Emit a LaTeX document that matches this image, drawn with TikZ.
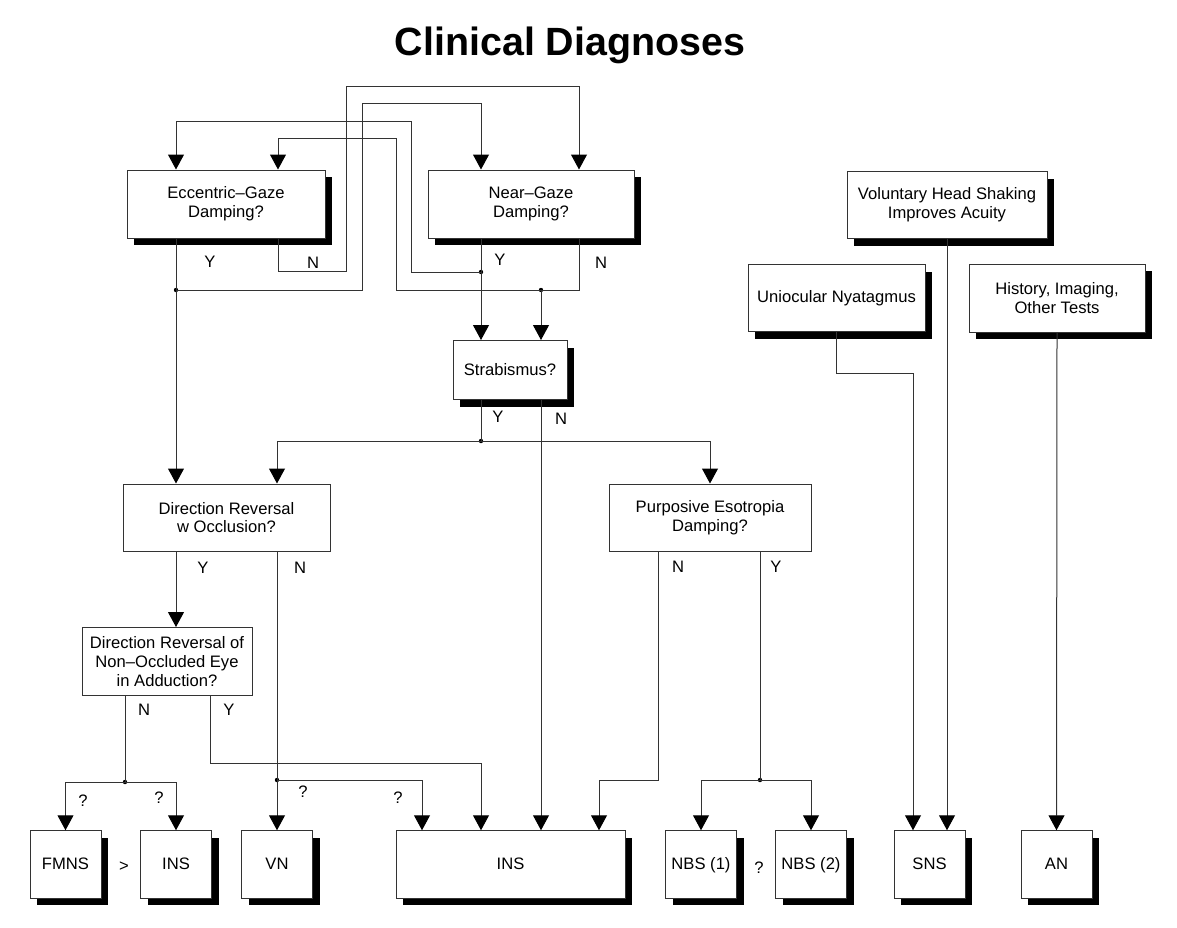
\documentclass[tikz,border=0pt]{standalone}
\usepackage{fontspec}
\setmainfont{Liberation Sans}
\usetikzlibrary{arrows.meta,shadows,positioning,calc}
\tikzset{
	box/.style={rectangle,draw=black!80,line width=.5pt,fill=white,align=center,inner sep=0pt,font=\fontsize{8.3}{9.4}\selectfont},
	shbox/.style={box,drop shadow={shadow xshift=3.5pt,shadow yshift=-3.5pt,fill=black,opacity=1}},
	dxbox/.style={shbox,minimum width=35.5pt,minimum height=33.75pt,text height=.72em,text depth=.22em},
	edge/.style={draw=black!80,line width=.5pt},
	diredge/.style={-{Triangle[width=8pt,length=7.5pt,color=black]},draw=black!80,line width=.5pt},
	lbl/.style={font=\fontsize{8.3}{9.4}\selectfont,inner sep=0pt},
	jdot/.style={fill=black}
}
\begin{document}
\begin{tikzpicture}[x=.5pt,y=-.5pt]
				\useasboundingbox (0,0) rectangle (1177,927);
				\node[anchor=base,font=\fontsize{19.7}{24}\selectfont\bfseries] (title) at (570,55) {Clinical Diagnoses};
				
				%%%% top row
				\node[shbox,minimum width=99pt,minimum height=34pt] (eg) at (226,204) {Eccentric--Gaze\\Damping?};
				\node[shbox,minimum width=103pt,minimum height=34pt] (ng) at (531,204) {Near--Gaze\\Damping?};
				\node[shbox,minimum width=100pt,minimum height=33.5pt] (vhs) at (947,205) {Voluntary Head Shaking\\Improves Acuity};
				\node[shbox,minimum width=88.5pt,minimum height=33.5pt] (uni) at (836.5,298) {Uniocular Nyatagmus};
				\node[shbox,minimum width=88pt,minimum height=34pt] (hist) at (1057,298) {History, Imaging,\\Other Tests};
				
				%%%% middle
				\node[shbox,minimum width=57pt,minimum height=29.5pt] (strab) at (510,370) {Strabismus?};
				\node[box,minimum width=103.5pt,minimum height=33.5pt] (dr) at (226.5,517.5) {Direction Reversal\\w Occlusion?};
				\node[box,minimum width=101pt,minimum height=33.5pt] (pe) at (710,517.5) {Purposive Esotropia\\Damping?};
				\node[box,minimum width=85pt,minimum height=34pt] (drn) at (167,661.5) {Direction Reversal of\\Non--Occluded Eye\\in Adduction?};
				
				%%%% diagnoses
				\node[dxbox] (fmns) at (65.5,864.5) {FMNS};
				\node[dxbox] (insa) at (176,864.5) {INS};
				\node[dxbox] (vn) at (277,864.5) {VN};
				\node[dxbox,minimum width=114.5pt] (insb) at (510.5,864.5) {INS};
				\node[dxbox] (nbsa) at (701,864.5) {NBS (1)};
				\node[dxbox] (nbsb) at (811,864.5) {NBS (2)};
				\node[dxbox] (sns) at (929.5,864.5) {SNS};
				\node[dxbox] (an) at (1056.5,864.5) {AN};
				
				%%%% junctions
				\coordinate (jegy) at (176,290);
				\coordinate (jngy) at (481,272);
				\coordinate (jngn) at (541,290);
				\coordinate (jst) at (481,441);
				\coordinate (jdrn) at (125,782);
				\coordinate (jdr) at (277,780);
				\coordinate (jpe) at (760,780);
				\foreach \j in {jegy,jngy,jngn,jst,jdrn,jdr,jpe}
					\fill[jdot] (\j) circle (1.1pt);
				
				%%%% gaze damping loops
				\draw[diredge] (eg.south -| jegy) -- (dr.north -| jegy);
				\draw[diredge] (jegy) -| (362,103) -| (ng.north -| jngy);
				\draw[diredge] (eg.south -| 278,0) |- (346,271) |- (579,86) -- (ng.north -| 579,0);
				\draw[diredge] (ng.south -| jngy) -- (strab.north -| jngy);
				\draw[diredge] (jngy) -| (411,121) -| (eg.north -| jegy);
				\draw[diredge] (ng.south -| 579,0) |- (396,290) |- (278,138) -- (eg.north -| 278,0);
				\draw[diredge] (jngn) -- (strab.north -| jngn);
				
				%%%% strabismus
				\draw[edge] (strab.south -| jst) -- (jst);
				\draw[diredge] (jst) -| (dr.north -| 277,0);
				\draw[diredge] (jst) -| (pe.north);
				\draw[diredge] (strab.south -| jngn) -- (insb.north -| jngn);
				
				%%%% occlusion
				\draw[diredge] (dr.south -| jegy) -- (drn.north -| jegy);
				\draw[diredge] (dr.south -| jdr) -- (vn.north);
				\draw[diredge] (jdr) -| (insb.north -| 422,0);
				\draw[edge] (drn.south -| jdrn) -- (jdrn);
				\draw[diredge] (jdrn) -| (fmns.north);
				\draw[diredge] (jdrn) -| (insa.north);
				\draw[diredge] (drn.south -| 210,0) |- (481,763) -- (insb.north -| jngy);
				
				%%%% esotropia
				\draw[diredge] (pe.south -| 658,0) |- (599,780) -- (insb.north -| 599,0);
				\draw[edge] (pe.south -| jpe) -- (jpe);
				\draw[diredge] (jpe) -| (nbsa.north);
				\draw[diredge] (jpe) -| (nbsb.north);
				
				%%%% right column
				\draw[diredge] (uni.south) |- (913,373) -- (sns.north -| 913,0);
				\draw[diredge] (vhs.south) -- (sns.north -| vhs.south);
				\draw[diredge] (hist.south) -- (an.north);
				
				%%%% labels
				\node[lbl] (egY) at (210,262) {Y};
				\node[lbl] (egN) at (313,263) {N};
				\node[lbl] (ngY) at (500,260) {Y};
				\node[lbl] (ngN) at (601,263) {N};
				\node[lbl] (stY) at (498,417) {Y};
				\node[lbl] (stN) at (561,419) {N};
				\node[lbl] (drY) at (203,568) {Y};
				\node[lbl] (drN) at (300,568) {N};
				\node[lbl] (peN) at (678,567) {N};
				\node[lbl] (peY) at (776,567) {Y};
				\node[lbl] (drnN) at (144,710) {N};
				\node[lbl] (drnY) at (229,710) {Y};
				\node[lbl] (q1) at (83,801) {?};
				\node[lbl] (q2) at (159,798) {?};
				\node[lbl] (q3) at (303,792) {?};
				\node[lbl] (q4) at (398,798) {?};
				\node[lbl] (gt) at (124,867) {>};
				\node[lbl] (q5) at (759,868) {?};
\end{tikzpicture}
\end{document}
